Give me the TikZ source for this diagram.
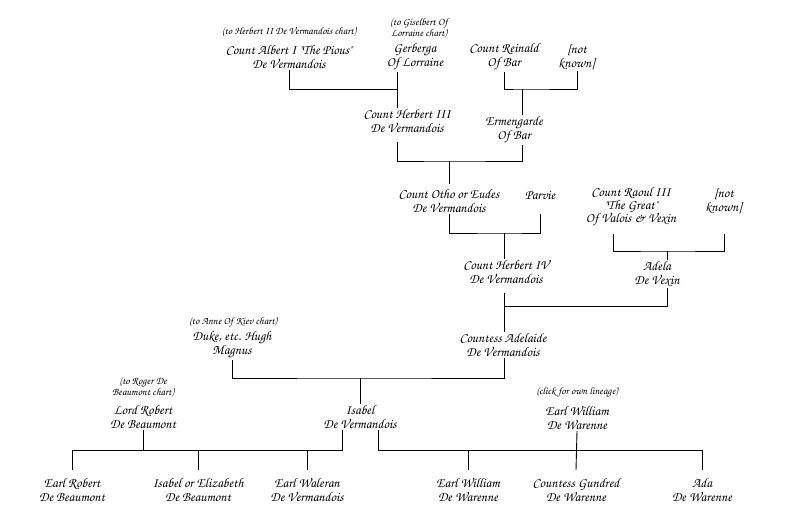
\documentclass[tikz,border=0pt]{standalone}
\usepackage[T1]{fontenc}
\usepackage{chancery}
\usetikzlibrary{positioning, calc}
\tikzset{
    persona/.style={
        align=center, inner sep=1pt,
        font=\fontsize{13.5}{14}\selectfont
    },
    hijo/.style={persona, outer ysep=7pt},
    nota/.style={align=center, inner sep=1pt, font=\fontsize{10.5}{11}\selectfont},
    linea/.style={line width=0.9pt, black}
}

\begin{document}
\begin{tikzpicture}[x=1pt, y=-1pt]

    \useasboundingbox (0,0) rectangle (792,522);

    % generacion 1
    \node[nota] (nAlbert) at (289,32) {(to Herbert II De Vermandois chart)};
    \node[nota] (nGerberga) at (419,28) {(to Giselbert Of\\Lorraine chart)};
    \node[persona] (albert) at (289,57) {Count Albert I \textquotedbl The Pious\textquotedbl\\De Vermandois};
    \node[persona] (gerberga) at (415,57) {Gerberga\\Of Lorraine};
    \node[persona] (reinald) at (504,57) {Count Reinald\\Of Bar};
    \node[persona] (bar0) at (577,57) {[not\\known]};

    % generacion 2
    \node[persona] (herbertIII) at (407,121) {Count Herbert III\\De Vermandois};
    \node[persona] (ermengarde) at (514,130) {Ermengarde\\Of Bar};

    % generacion 3
    \node[persona] (otho) at (449,201) {Count Otho or Eudes\\De Vermandois};
    \node[persona] (parvie) at (540,195) {Parvie};
    \node[persona, font=\fontsize{13.5}{12.5}\selectfont] (raoul) at (631,207) {Count Raoul III\\\textquotedbl The Great\textquotedbl\\Of Valois \& Vexin};
    \node[persona] (vexin0) at (724,201) {[not\\known]};

    % generacion 4
    \node[persona] (herbertIV) at (506,272) {Count Herbert IV\\De Vermandois};
    \node[persona] (adela) at (657,274) {Adela\\De Vexin};

    % generacion 5
    \node[nota] (nHugh) at (233,322) {(to Anne Of Kiev chart)};
    \node[persona] (hugh) at (232,345) {Duke, etc. Hugh\\Magnus};
    \node[persona] (adelaide) at (503,345) {Countess Adelaide\\De Vermandois};

    % generacion 6
    \node[nota] (nRobert) at (143,388) {(to Roger De\\Beaumont chart)};
    \node[persona] (robert) at (143,417) {Lord Robert\\De Beaumont};
    \node[persona] (isabel) at (360,417) {Isabel\\De Vermandois};
    \node[nota] (nWilliam) at (577,392) {(click for own lineage)};
    \node[persona] (william) at (577,418) {Earl William\\De Warenne};

    % generacion 7
    \node[hijo] (earlRobert) at (72,490) {Earl Robert\\De Beaumont};
    \node[hijo] (isabelB) at (198,490) {Isabel or Elizabeth\\De Beaumont};
    \node[hijo] (waleran) at (307,490) {Earl Waleran\\De Vermandois};
    \node[hijo] (williamJr) at (468,490) {Earl William\\De Warenne};
    \node[hijo] (gundred) at (576,490) {Countess Gundred\\De Warenne};
    \node[hijo] (ada) at (702,490) {Ada\\De Warenne};

    % uniones
    \coordinate (m1) at (397,89);
    \coordinate (m2) at (522,89);
    \coordinate (m3) at (449,161);
    \coordinate (m4) at (504,233);
    \coordinate (m5) at (667,251);
    \coordinate (m6) at (504,306);
    \coordinate (m7) at (360,378);
    \coordinate (m8) at (342,450);

    \draw[linea] (albert.south) |- (m1);
    \draw[linea] (gerberga.south -| m1) -- (herbertIII.north -| m1);
    \draw[linea] (reinald.south) |- (m2) -| (bar0.south);
    \draw[linea] (m2) -- (ermengarde.north -| m2);

    \draw[linea] ($(herbertIII.south -| m1)+(0,8)$) |- (m3) -| (ermengarde.south -| m2);
    \draw[linea] (m3) -- ($(otho.north -| m3)+(0,-4)$);

    \draw[linea] (otho.south) |- (m4) -| (parvie.south |- otho.south);
    \draw[linea] (m4) -- (herbertIV.north -| m4);
    \draw[linea] ($(raoul.south)+(-18,6)$) |- (m5) -| ($(vexin0.south |- raoul.south)+(0,6)$);
    \draw[linea] (m5) -- (adela.north -| m5);

    \draw[linea] ($(herbertIV.south -| m6)+(0,8)$) -- (adelaide.north -| m6);
    \draw[linea] (m6) -| (adela.south -| m5);
    \draw[linea] (hugh.south) |- (m7) -| (adelaide.south -| m6);
    \draw[linea] (m7) -- (isabel.north);

    \draw[linea] (robert.south) -- (robert.south |- m8);
    \draw[linea] ($(isabel.south)+(-18,0)$) |- (earlRobert.north |- m8) -- (earlRobert.north);
    \draw[linea] (isabelB.north |- m8) -- (isabelB.north);
    \draw[linea] (waleran.north |- m8) -- (waleran.north);
    \draw[linea] ($(isabel.south)+(18,0)$) |- (ada.north |- m8) -- (ada.north);
    \draw[linea] (williamJr.north |- m8) -- (williamJr.north);
    \draw[linea] (william.south) -- (gundred.north);

\end{tikzpicture}
\end{document}
